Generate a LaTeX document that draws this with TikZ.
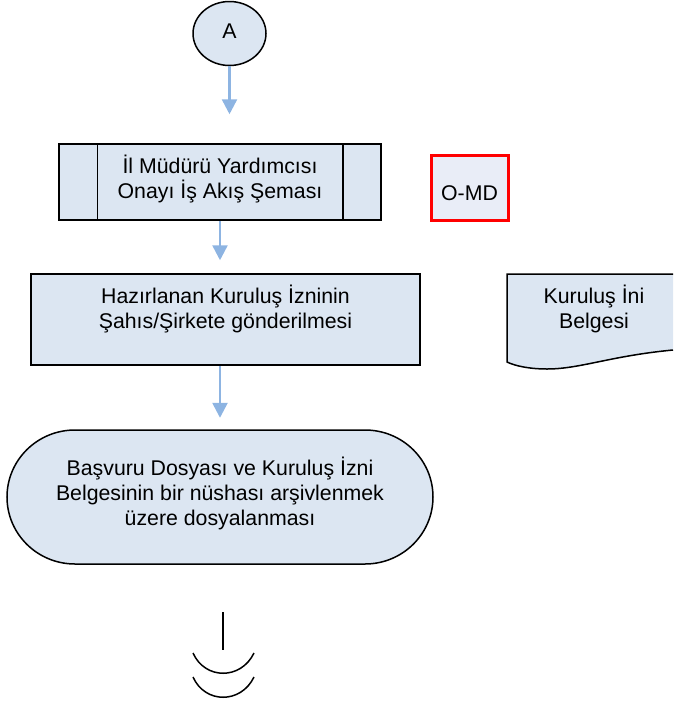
\documentclass[tikz,border=0pt]{standalone}
\usepackage{fontspec}
\setmainfont{Liberation Sans}
\usetikzlibrary{shapes.geometric,arrows.meta}
\definecolor{kutumavi}{HTML}{DCE6F2}
\definecolor{okmavi}{HTML}{8DB4E2}
\definecolor{omdzemin}{HTML}{E9EDF7}

\begin{document}
\begin{tikzpicture}
    [x=1pt,y=-1pt,
     every node/.style={font=\fontsize{21.3}{25}\selectfont,align=center,inner sep=0pt,text depth=0pt},
     kutu/.style={draw,line width=1.5pt,fill=kutumavi},
     cizgi/.style={line width=1.5pt},
     ok/.style={draw=okmavi,line width=2.5pt,-{Triangle[length=15pt,width=15pt]}}]
    \useasboundingbox (0,0) rectangle (673,705);
    % belge ve arsiv sekilleri
    \fill[kutumavi] (507,274) -- (673,274) -- (673,350) .. controls (610,356) and (580,369) .. (547,369) .. controls (530,369) and (515,366) .. (507,362) -- cycle;
    \draw[cizgi] (673,274) -- (507,274) -- (507,362) .. controls (515,366) and (530,369) .. (547,369) .. controls (580,369) and (610,356) .. (673,350);
    \filldraw[kutu] (75,430) -- (365,430) .. controls (402.6,430) and (433,460) .. (433,497) .. controls (433,534) and (402.6,564) .. (365,564) -- (75,564) .. controls (37.4,564) and (7,534) .. (7,497) .. controls (7,460) and (37.4,430) .. (75,430) -- cycle;
    \node[kutu,ellipse,minimum width=73pt,minimum height=64pt,text height=15pt,text depth=5pt] (a) at (229.5,33.5) {A};
    \node[kutu,minimum width=322pt,minimum height=76pt,text height=33pt] (onay) at (220,182) {İl Müdürü Yardımcısı\\Onayı İş Akış Şeması};
    \node[draw=red,line width=3pt,fill=omdzemin,minimum width=77pt,minimum height=65pt,text height=26pt] (omd) at (469.5,187.5) {O-MD};
    \node[kutu,minimum width=389pt,minimum height=91pt,text height=18pt] (hazir) at (225.5,319.5) {Hazırlanan Kuruluş İzninin\\Şahıs/Şirkete gönderilmesi};
    \node[text height=36pt] (belge) at (594,310.5) {Kuruluş İni\\Belgesi};
    \node[minimum width=426pt,minimum height=134pt,text height=57pt] (arsiv) at (220,497) {Başvuru Dosyası ve Kuruluş İzni\\Belgesinin bir nüshası arşivlenmek\\üzere dosyalanması};
    \draw[cizgi] ([xshift=39pt]onay.north west) -- ([xshift=39pt]onay.south west);
    \draw[cizgi] ([xshift=-39pt]onay.north east) -- ([xshift=-39pt]onay.south east);
    \draw[ok,shorten >=29pt] (a.south) -- (a.south |- onay.north);
    \draw[ok,shorten >=13pt] (onay.south) -- (onay.south |- hazir.north);
    \draw[ok,shorten >=12pt] (hazir.south -| onay.south) -- (onay.south |- arsiv.north);
    % sayfa sonu
    \coordinate (son1) at (223,612);
    \coordinate (son2) at (223,650);
    \draw[cizgi] (son1) -- (son2);
    \draw[cizgi] (193,653) .. controls (205,680) and (241,680) .. (254,653);
    \draw[cizgi] (193,677) .. controls (205,704) and (241,704) .. (254,677);
\end{tikzpicture}
\end{document}
